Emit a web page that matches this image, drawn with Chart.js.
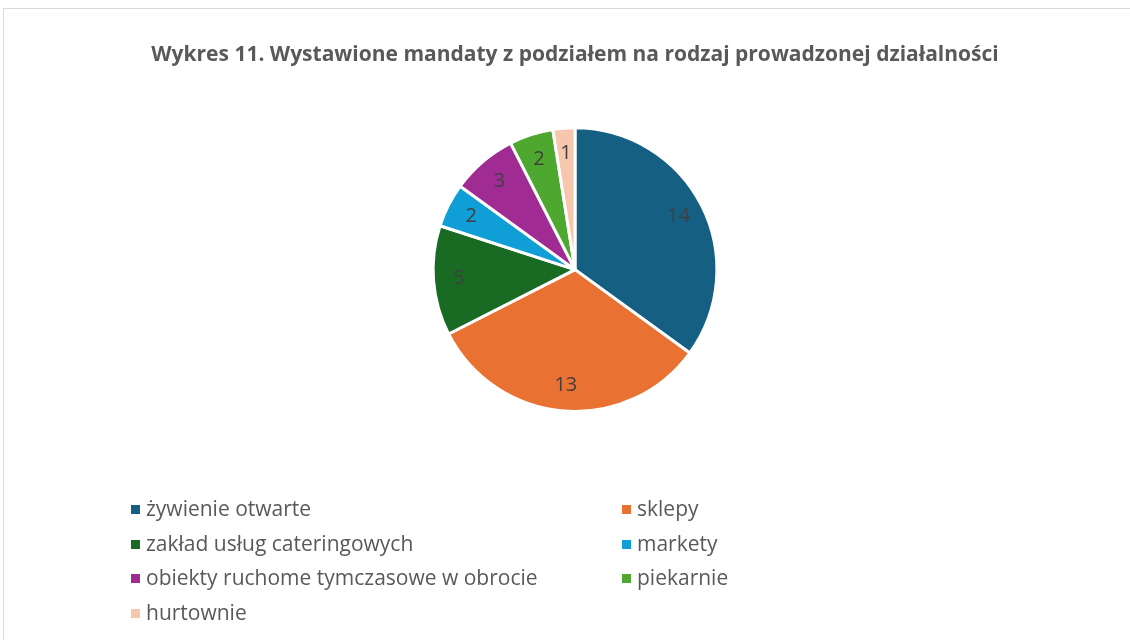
<!DOCTYPE html>
<html lang="pl">
<head>
  <title>Wykres 11</title>
  <meta charset="utf-8">
  <script src="https://cdn.jsdelivr.net/npm/chart.js@4.4.1/dist/chart.umd.min.js"></script>
  <style>
    body { margin: 0; background: #fff; }
    #wrap { position: relative; width: 1130px; height: 640px; overflow: hidden; }
    #frame {
      position: absolute; left: 3px; top: 8px; width: 1140px; height: 650px;
      border-top: 1px solid #d9d9d9; border-left: 1px solid #d9d9d9;
    }
    #chart { position: absolute; left: 0; top: 0; }
    #legend {
      position: absolute; left: 131px; top: 494px;
      font-family: "Open Sans", sans-serif; font-size: 21px; color: #595959;
    }
    .item { position: absolute; white-space: nowrap; height: 28px; line-height: 28px; }
    .box { display: inline-block; width: 9px; height: 9px; margin-right: 6px; vertical-align: 2px; }
  </style>
</head>
<body>
<div id="wrap">
  <div id="frame"></div>
  <canvas id="chart" width="1130" height="640"></canvas>
  <div id="legend"></div>
</div>

<script>
  // kategorie i liczba mandatów
  const labels = ["żywienie otwarte", "sklepy", "zakład usług cateringowych", "markety",
                  "obiekty ruchome tymczasowe w obrocie", "piekarnie", "hurtownie"]
  const values = [14, 13, 5, 2, 3, 2, 1]
  const colours = ["#156082", "#E97132", "#196B24", "#0F9ED5", "#A02B93", "#4EA72E", "#F6C6AD"]
  const title = "Wykres 11. Wystawione mandaty z podziałem na rodzaj prowadzonej działalności"

  // etykiety wartości wewnątrz wycinków
  const sliceLabels = {
    id: "sliceLabels",
    afterDatasetsDraw(chart) {
      const ctx = chart.ctx
      const meta = chart.getDatasetMeta(0)
      ctx.save()
      ctx.font = "20px 'Open Sans', sans-serif"
      ctx.fillStyle = "#404040"
      ctx.textAlign = "center"
      ctx.textBaseline = "middle"
      meta.data.forEach((arc, i) => {
        const p = arc.getProps(["x", "y", "startAngle", "endAngle", "outerRadius"], true)
        const mid = (p.startAngle + p.endAngle) / 2
        const r = p.outerRadius * 0.82
        ctx.fillText(values[i], p.x + Math.cos(mid) * r, p.y + Math.sin(mid) * r)
      })
      ctx.restore()
    }
  }

  new Chart(document.getElementById("chart"), {
    type: "pie",
    data: {
      labels: labels,
      datasets: [{
        data: values,
        backgroundColor: colours,
        borderColor: "#ffffff",
        borderWidth: 3
      }]
    },
    options: {
      responsive: false,
      animation: false,
      layout: { padding: { left: 20, right: 0, top: 0, bottom: 227 } },
      plugins: {
        legend: { display: false },
        tooltip: { enabled: false },
        title: {
          display: true,
          text: title,
          color: "#595959",
          font: { family: "'Open Sans', sans-serif", size: 21, weight: "bold" },
          padding: { top: 42, bottom: 59 }
        }
      }
    },
    plugins: [sliceLabels]
  })

  // legenda w dwóch kolumnach
  const legend = document.getElementById("legend")
  labels.forEach((name, i) => {
    const el = document.createElement("div")
    el.className = "item"
    el.style.left = (i % 2 === 0 ? 0 : 491) + "px"
    el.style.top = (Math.floor(i / 2) * 34.5) + "px"
    el.innerHTML = '<span class="box" style="background:' + colours[i] + '"></span>' + name
    legend.appendChild(el)
  })
</script>
</body>
</html>
